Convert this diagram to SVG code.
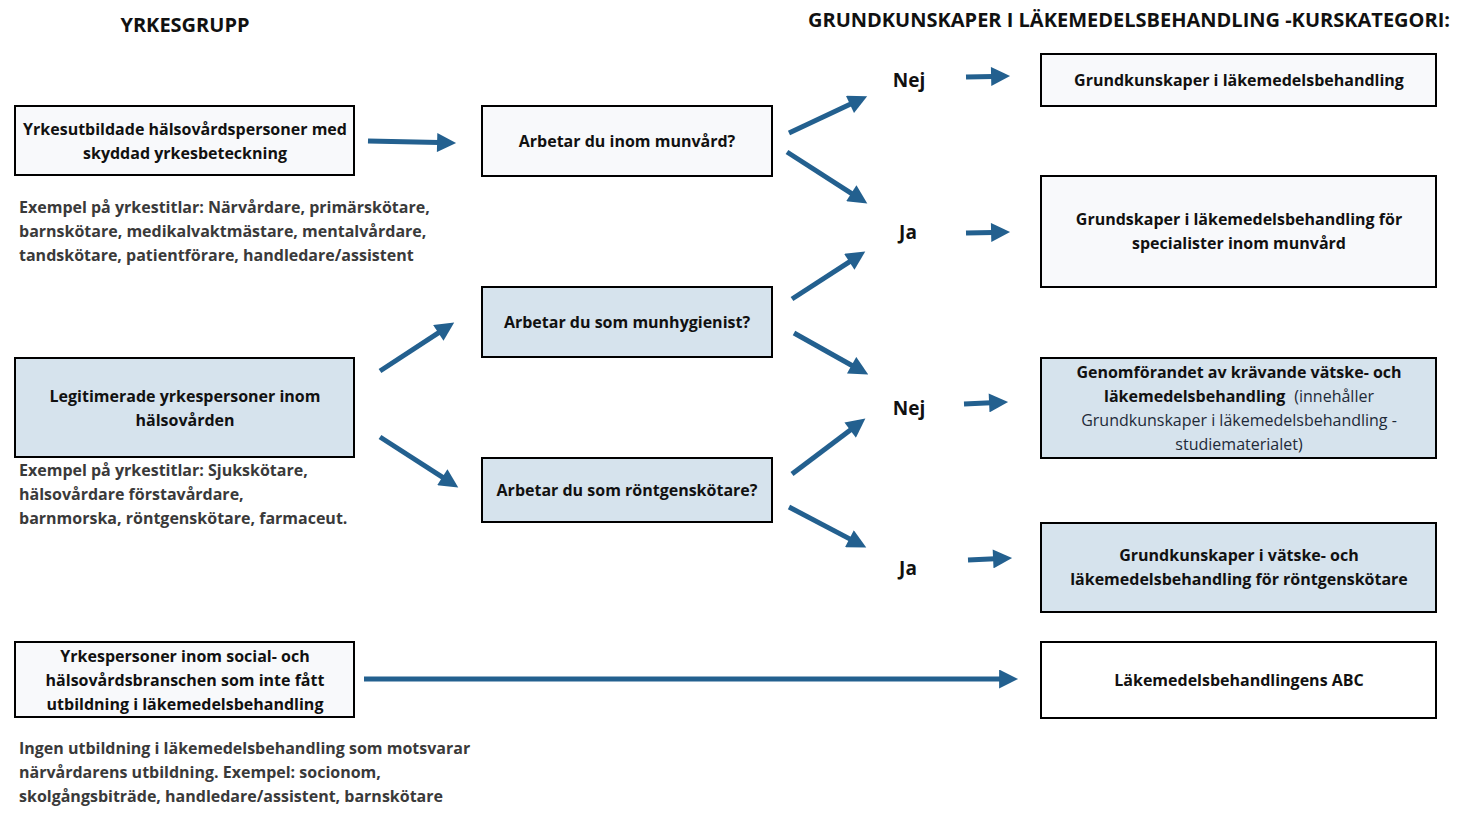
<svg xmlns="http://www.w3.org/2000/svg" width="1464" height="824" viewBox="0 0 1464 824">
<style>
text{font-family:"Open Sans","Noto Sans","Liberation Sans",sans-serif;}
.box{stroke:#000;stroke-width:2;}
.lt{fill:#f8f9fb;}
.bl{fill:#d6e3ed;}
.wh{fill:#ffffff;}
.t{font-size:16px;font-weight:700;fill:#111;text-anchor:middle;}
.n{font-weight:400;fill:#1e2a38;}
.ex{font-size:16px;font-weight:700;fill:#3a3a3a;}
.h{font-size:20px;font-weight:700;fill:#111;}
.lab{font-size:19px;font-weight:700;fill:#111;text-anchor:middle;}
.c line{stroke:#23608f;stroke-width:5;marker-end:url(#ah);}
</style>
<defs>
<marker id="ah" viewBox="0 0 10 10" refX="1" refY="5" markerWidth="4" markerHeight="3.8" orient="auto">
<path d="M0,0 L10,5 L0,10 z" fill="#23608f"/>
</marker>
</defs>
<rect width="1464" height="824" fill="#ffffff"/>
<text class="h" x="185" y="32" text-anchor="middle">YRKESGRUPP</text>
<text class="h" x="1129" y="27" text-anchor="middle">GRUNDKUNSKAPER I LÄKEMEDELSBEHANDLING -KURSKATEGORI:</text>

<g id="b1"><rect class="box lt" x="15" y="106" width="339" height="69"/>
<text class="t" x="185" y="135">Yrkesutbildade hälsovårdspersoner med</text>
<text class="t" x="185" y="159">skyddad yrkesbeteckning</text></g>
<g id="b1ex"><text class="ex" x="19" y="213">Exempel på yrkestitlar: Närvårdare, primärskötare,</text>
<text class="ex" x="19" y="237">barnskötare, medikalvaktmästare, mentalvårdare,</text>
<text class="ex" x="19" y="261">tandskötare, patientförare, handledare/assistent</text></g>

<g id="b2"><rect class="box bl" x="15" y="358" width="339" height="99"/>
<text class="t" x="185" y="402">Legitimerade yrkespersoner inom</text>
<text class="t" x="185" y="426">hälsovården</text></g>
<g id="b2ex"><text class="ex" x="19" y="476">Exempel på yrkestitlar: Sjukskötare,</text>
<text class="ex" x="19" y="500">hälsovårdare förstavårdare,</text>
<text class="ex" x="19" y="524">barnmorska, röntgenskötare, farmaceut.</text></g>

<g id="b3"><rect class="box lt" x="15" y="642" width="339" height="75"/>
<text class="t" x="185" y="662">Yrkespersoner inom social- och</text>
<text class="t" x="185" y="686">hälsovårdsbranschen som inte fått</text>
<text class="t" x="185" y="710">utbildning i läkemedelsbehandling</text></g>
<g id="b3ex"><text class="ex" x="19" y="754">Ingen utbildning i läkemedelsbehandling som motsvarar</text>
<text class="ex" x="19" y="778">närvårdarens utbildning. Exempel: socionom,</text>
<text class="ex" x="19" y="802">skolgångsbiträde, handledare/assistent, barnskötare</text></g>

<g id="q1"><rect class="box lt" x="482" y="106" width="290" height="70"/>
<text class="t" x="627" y="147">Arbetar du inom munvård?</text></g>
<g id="q2"><rect class="box bl" x="482" y="287" width="290" height="70"/>
<text class="t" x="627" y="328">Arbetar du som munhygienist?</text></g>
<g id="q3"><rect class="box bl" x="482" y="458" width="290" height="64"/>
<text class="t" x="627" y="496">Arbetar du som röntgenskötare?</text></g>

<g id="l1"><text class="lab" x="909" y="87">Nej</text></g>
<g id="l2"><text class="lab" x="908" y="239">Ja</text></g>
<g id="l3"><text class="lab" x="909" y="415">Nej</text></g>
<g id="l4"><text class="lab" x="908" y="575">Ja</text></g>

<g id="r1"><rect class="box lt" x="1041" y="54" width="395" height="52"/>
<text class="t" x="1239" y="86">Grundkunskaper i läkemedelsbehandling</text></g>
<g id="r2"><rect class="box lt" x="1041" y="176" width="395" height="111"/>
<text class="t" x="1239" y="225">Grundskaper i läkemedelsbehandling för</text>
<text class="t" x="1239" y="249">specialister inom munvård</text></g>
<g id="r3"><rect class="box bl" x="1041" y="358" width="395" height="100"/>
<text class="t" x="1239" y="378">Genomförandet av krävande vätske- och</text>
<text class="t" x="1239" y="402">läkemedelsbehandling<tspan class="n" dx="9">(innehåller</tspan></text>
<text class="t n" x="1239" y="426">Grundkunskaper i läkemedelsbehandling -</text>
<text class="t n" x="1239" y="450">studiematerialet)</text></g>
<g id="r4"><rect class="box bl" x="1041" y="523" width="395" height="89"/>
<text class="t" x="1239" y="561">Grundkunskaper i vätske- och</text>
<text class="t" x="1239" y="585">läkemedelsbehandling för röntgenskötare</text></g>
<g id="r5"><rect class="box wh" x="1041" y="642" width="395" height="76"/>
<text class="t" x="1239" y="686">Läkemedelsbehandlingens ABC</text></g>

<g class="c" id="connectors">
<line x1="368" y1="141" x2="439" y2="142.6"/>
<line x1="789" y1="133" x2="851.7" y2="103.6"/>
<line x1="787" y1="152" x2="852.9" y2="194.3"/>
<line x1="792" y1="299" x2="850.9" y2="260.8"/>
<line x1="794" y1="333" x2="853.3" y2="366.2"/>
<line x1="792" y1="474" x2="851.7" y2="428.9"/>
<line x1="789" y1="507" x2="851.1" y2="539.6"/>
<line x1="380" y1="371" x2="439.9" y2="331.8"/>
<line x1="380" y1="437" x2="443.9" y2="478.2"/>
<line x1="966" y1="77" x2="993" y2="76.4"/>
<line x1="966" y1="233" x2="993" y2="232.4"/>
<line x1="964" y1="404" x2="991" y2="402.8"/>
<line x1="968" y1="560" x2="995" y2="558.8"/>
<line x1="364" y1="679" x2="1001" y2="679"/>
</g>
</svg>
